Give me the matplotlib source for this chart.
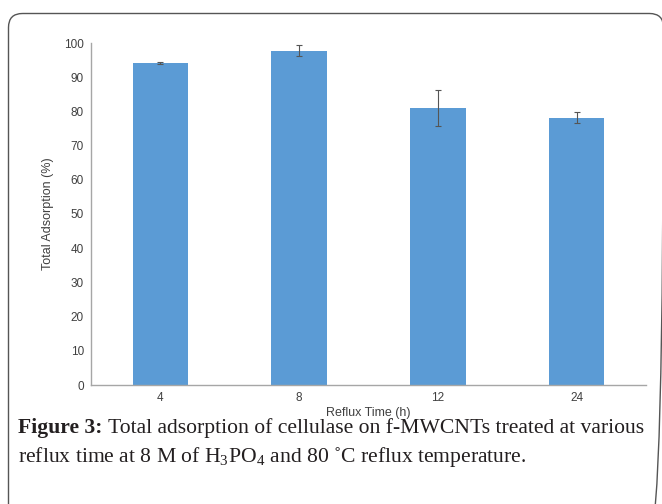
import matplotlib.pyplot as plt
from matplotlib.patches import FancyBboxPatch

# data
reflux_time = ["4", "8", "12", "24"]
adsorption = [94.2, 97.8, 81.0, 78.2]
adsorption_err = [0.3, 1.6, 5.4, 1.7]

plt.rcParams['mathtext.fontset'] = 'custom'
plt.rcParams['mathtext.rm'] = 'Liberation Serif'

W, H = 662, 504
fig = plt.figure(figsize=(W / 100, H / 100), dpi=100)

# background axes in pixel units for the rounded frame
bg = fig.add_axes([0, 0, 1, 1])
bg.set_xlim(0, W)
bg.set_ylim(H, 0)
bg.axis('off')
bg.add_patch(FancyBboxPatch((8.5, 13.5), 655, 520,
                            boxstyle="round,pad=0,rounding_size=14",
                            fill=False, edgecolor='#555555', linewidth=1.0))

ax = fig.add_axes([91 / W, 1 - 385 / H, (646 - 91) / W, (385 - 43) / H])
x = range(len(reflux_time))
ax.bar(x, adsorption, width=0.40, color='#5B9BD5',
       yerr=adsorption_err, ecolor='#555555', capsize=2,
       error_kw=dict(elinewidth=0.8, capthick=0.8))

ax.set_xlim(-0.5, 3.5)
ax.set_ylim(0, 100)
ax.set_yticks(range(0, 101, 10))
ax.set_xticks(list(x))
ax.set_xticklabels(reflux_time)

for s in ['top', 'right']:
    ax.spines[s].set_visible(False)
for s in ['left', 'bottom']:
    ax.spines[s].set_color('#A6A6A6')
    ax.spines[s].set_linewidth(1.0)
ax.tick_params(length=0, labelsize=8.5, labelcolor='#404040', pad=5)
for lab in ax.get_xticklabels() + ax.get_yticklabels():
    lab.set_fontfamily('Liberation Sans')

ax.set_ylabel("Total Adsorption (%)", fontsize=9, color='#404040',
              fontfamily='Liberation Sans', labelpad=7)
ax.set_xlabel("Reflux Time (h)", fontsize=9, color='#404040',
              fontfamily='Liberation Sans', labelpad=2)

# caption
cap_font = dict(fontfamily='Liberation Serif', fontsize=15.6, color='#231F20')
t1 = fig.text(18 / W, 1 - 428 / H, "Figure 3: ", fontweight='bold', va='center', **cap_font)
fig.canvas.draw()
x1 = t1.get_window_extent().x1 / W
fig.text(x1, 1 - 428 / H,
         "Total adsorption of cellulase on f-MWCNTs treated at various",
         va='center', **cap_font)
fig.text(18 / W, 1 - 457 / H,
         r"reflux time at 8 M of H$_3$PO$_4$ and 80 ˚C reflux temperature.",
         va='center', **cap_font)

plt.savefig("out.png", dpi=100)
